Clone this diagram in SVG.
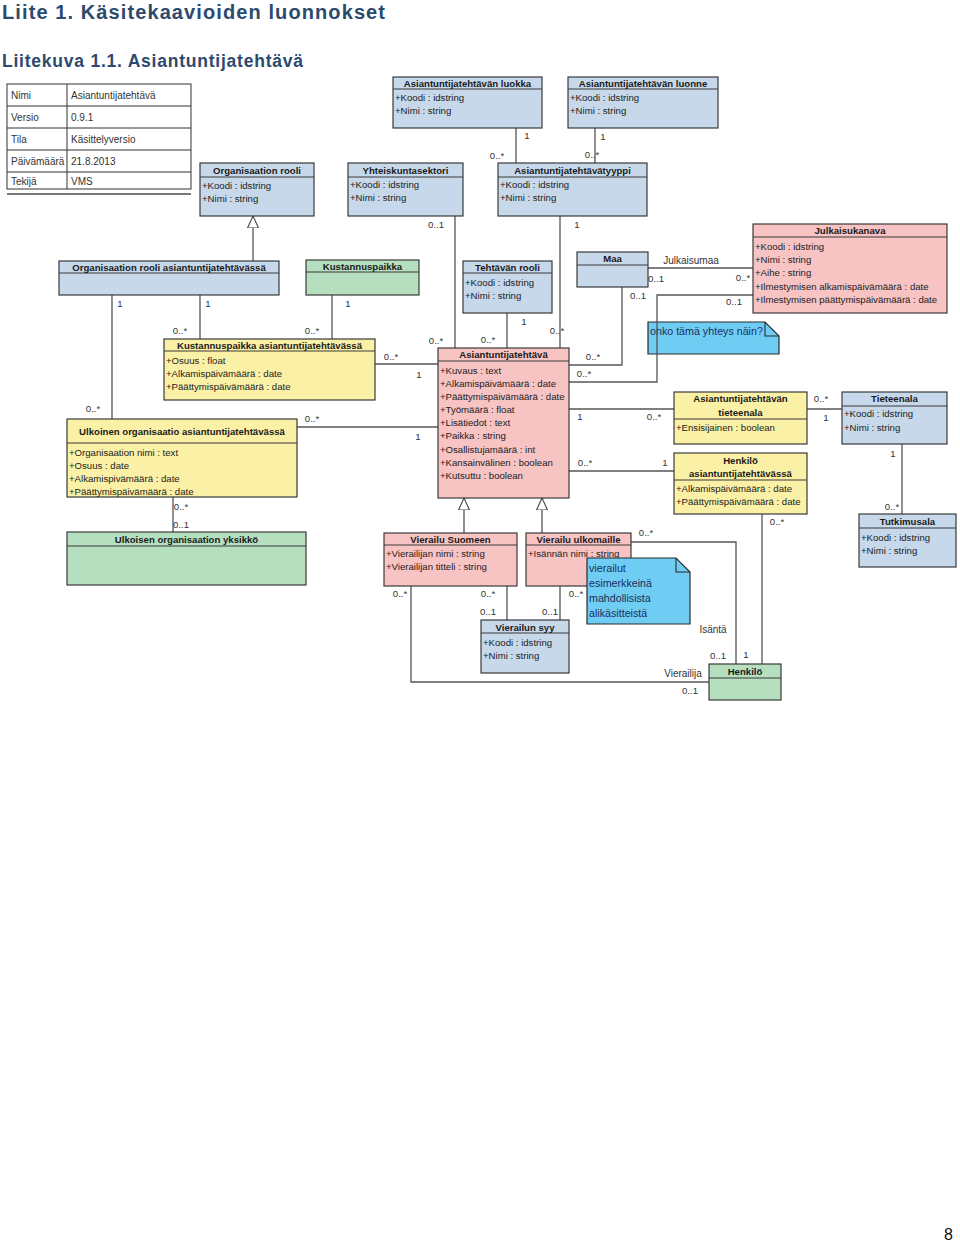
<svg xmlns="http://www.w3.org/2000/svg" width="960" height="1242" viewBox="0 0 960 1242">
<style>
.bg{fill:#ffffff}
.blue{fill:#c6d8ea;stroke:#3a3a3a;stroke-width:1.2}
.pink{fill:#f8c3c3;stroke:#3a3a3a;stroke-width:1.2}
.yel{fill:#fbf1a6;stroke:#3a3a3a;stroke-width:1.2}
.grn{fill:#b5dfbf;stroke:#3a3a3a;stroke-width:1.2}
.note{fill:#6fcdf4;stroke:#2a2a2a;stroke-width:1.2}
.hl{stroke:#3a3a3a;stroke-width:1.2}
.h{font-family:"Liberation Sans",Arial,sans-serif;font-size:9.6px;font-weight:bold;fill:#1a1a1a;text-anchor:middle}
.a{font-family:"Liberation Sans",Arial,sans-serif;font-size:9.6px;fill:#222}
.m{font-family:"Liberation Sans",Arial,sans-serif;font-size:9.6px;fill:#333;text-anchor:middle}
.r{font-family:"Liberation Sans",Arial,sans-serif;font-size:10px;fill:#333;text-anchor:middle}
.n{font-family:"Liberation Sans",Arial,sans-serif;font-size:10.7px;fill:#1c2d5c}
.tb{font-family:"Liberation Sans",Arial,sans-serif;font-size:10px;fill:#333}
.ti{font-family:"Liberation Sans",Arial,sans-serif;font-weight:bold;fill:#2c4a6e}
.c{fill:none;stroke:#555;stroke-width:1.3}
</style>
<defs>
<marker id="gen" viewBox="0 0 12 12" refX="12" refY="6" markerWidth="12" markerHeight="12" markerUnits="userSpaceOnUse" orient="auto">
<path d="M0,0.5 L12,6 L0,11.5 Z" fill="#ffffff" stroke="#444" stroke-width="1.1"/>
</marker>
</defs>
<rect class="bg" x="0" y="0" width="960" height="1242"/>

<text class="ti" x="2" y="19" font-size="20px" textLength="383" lengthAdjust="spacing">Liite 1. Käsitekaavioiden luonnokset</text>
<text class="ti" x="2" y="67" font-size="17.5px" textLength="301" lengthAdjust="spacing">Liitekuva 1.1. Asiantuntijatehtävä</text>
<text x="944" y="1240" font-family="Liberation Sans,Arial,sans-serif" font-size="16px" fill="#111">8</text>

<g id="info-table">
<rect x="7" y="84" width="184" height="105" fill="#fff" stroke="#333" stroke-width="1"/>
<line x1="67" y1="84" x2="67" y2="189" stroke="#333"/>
<line x1="7" y1="106" x2="191" y2="106" stroke="#333"/>
<line x1="7" y1="128" x2="191" y2="128" stroke="#333"/>
<line x1="7" y1="150" x2="191" y2="150" stroke="#333"/>
<line x1="7" y1="172" x2="191" y2="172" stroke="#333"/>
<line x1="7" y1="194" x2="191" y2="194" stroke="#777" stroke-width="2"/>
<text class="tb" x="11" y="99">Nimi</text><text class="tb" x="71" y="99">Asiantuntijatehtävä</text>
<text class="tb" x="11" y="121">Versio</text><text class="tb" x="71" y="121">0.9.1</text>
<text class="tb" x="11" y="143">Tila</text><text class="tb" x="71" y="143">Käsittelyversio</text>
<text class="tb" x="11" y="165">Päivämäärä</text><text class="tb" x="71" y="165">21.8.2013</text>
<text class="tb" x="11" y="185">Tekijä</text><text class="tb" x="71" y="185">VMS</text>
</g>

<g id="connectors">
<line class="c" x1="253" y1="261" x2="253" y2="216" marker-end="url(#gen)"/>
<line class="c" x1="464" y1="533" x2="464" y2="498" marker-end="url(#gen)"/>
<line class="c" x1="542" y1="533" x2="542" y2="498" marker-end="url(#gen)"/>
<polyline class="c" points="516,128 516,163"/>
<polyline class="c" points="595,128 595,163"/>
<polyline class="c" points="560,216 560,348"/>
<polyline class="c" points="455,216 455,348"/>
<polyline class="c" points="200,295 200,339"/>
<polyline class="c" points="332,295 332,339"/>
<polyline class="c" points="112,295 112,419"/>
<polyline class="c" points="375,364 438,364"/>
<polyline class="c" points="507,313 507,348"/>
<polyline class="c" points="648,268 753,268"/>
<polyline class="c" points="622,287 622,365 569,365"/>
<polyline class="c" points="297,427 438,427"/>
<polyline class="c" points="173,497 173,532"/>
<polyline class="c" points="569,409 674,409"/>
<polyline class="c" points="807,409 842,409"/>
<polyline class="c" points="902,444 902,514"/>
<polyline class="c" points="569,471 674,471"/>
<polyline class="c" points="762,514 762,664"/>
<polyline class="c" points="631,542 736,542 736,664"/>
<polyline class="c" points="411,586 411,682 709,682"/>
<polyline class="c" points="507,586 507,620"/>
<polyline class="c" points="560,586 560,620"/>
</g>

<g id="note-yhteys">
<path class="note" d="M648,322 L765,322 L779,336 L779,354 L648,354 Z"/>
<path d="M765,322 L765,336 L779,336" fill="none" stroke="#2a2a2a" stroke-width="1.1"/>
<text class="n" x="650" y="335">onko tämä yhteys näin?</text>
</g>
<polyline class="c" points="753,295 657,295 657,382 569,382"/>

<g id="connector-labels">
<text class="m" x="527" y="139">1</text><text class="m" x="497" y="159">0..*</text>
<text class="m" x="603" y="140">1</text><text class="m" x="592" y="158">0..*</text>
<text class="m" x="577" y="228">1</text><text class="m" x="557" y="334">0..*</text>
<text class="m" x="436" y="228">0..1</text><text class="m" x="436" y="344">0..*</text>
<text class="m" x="208" y="307">1</text><text class="m" x="180" y="334">0..*</text>
<text class="m" x="348" y="307">1</text><text class="m" x="312" y="334">0..*</text>
<text class="m" x="120" y="307">1</text><text class="m" x="93" y="412">0..*</text>
<text class="m" x="391" y="360">0..*</text><text class="m" x="419" y="378">1</text>
<text class="m" x="524" y="325">1</text><text class="m" x="488" y="343">0..*</text>
<text class="r" x="691" y="264">Julkaisumaa</text>
<text class="m" x="656" y="282">0..1</text><text class="m" x="743" y="281">0..*</text>
<text class="m" x="734" y="305">0..1</text><text class="m" x="584" y="377">0..*</text>
<text class="m" x="638" y="299">0..1</text><text class="m" x="593" y="360">0..*</text>
<text class="m" x="312" y="422">0..*</text><text class="m" x="418" y="440">1</text>
<text class="m" x="181" y="510">0..*</text><text class="m" x="181" y="528">0..1</text>
<text class="m" x="580" y="420">1</text><text class="m" x="654" y="420">0..*</text>
<text class="m" x="821" y="402">0..*</text><text class="m" x="826" y="421">1</text>
<text class="m" x="893" y="457">1</text><text class="m" x="892" y="510">0..*</text>
<text class="m" x="585" y="466">0..*</text><text class="m" x="665" y="466">1</text>
<text class="m" x="777" y="525">0..*</text><text class="m" x="746" y="658">1</text>
<text class="m" x="646" y="536">0..*</text>
<text class="r" x="713" y="633">Isäntä</text><text class="m" x="718" y="659">0..1</text>
<text class="m" x="400" y="597">0..*</text>
<text class="r" x="683" y="677">Vierailija</text><text class="m" x="690" y="694">0..1</text>
<text class="m" x="488" y="597">0..*</text><text class="m" x="488" y="615">0..1</text>
<text class="m" x="576" y="597">0..*</text><text class="m" x="550" y="615">0..1</text>
</g>

<g id="organisaation-rooli">
<rect class="blue" x="200" y="163" width="114" height="53"/>
<line class="hl" x1="200" y1="177" x2="314" y2="177"/>
<text class="h" x="257" y="173.5">Organisaation rooli</text>
<text class="a" x="202" y="189">+Koodi : idstring</text>
<text class="a" x="202" y="202">+Nimi : string</text>
</g>

<g id="yhteiskuntasektori">
<rect class="blue" x="348" y="163" width="115" height="53"/>
<line class="hl" x1="348" y1="177" x2="463" y2="177"/>
<text class="h" x="405.5" y="173.5">Yhteiskuntasektori</text>
<text class="a" x="350" y="188">+Koodi : idstring</text>
<text class="a" x="350" y="201">+Nimi : string</text>
</g>

<g id="asiantuntijatehtavan-luokka">
<rect class="blue" x="393" y="77" width="149" height="51"/>
<line class="hl" x1="393" y1="89" x2="542" y2="89"/>
<text class="h" x="467.5" y="86.5">Asiantuntijatehtävän luokka</text>
<text class="a" x="395" y="100.5">+Koodi : idstring</text>
<text class="a" x="395" y="114">+Nimi : string</text>
</g>

<g id="asiantuntijatehtavan-luonne">
<rect class="blue" x="568" y="77" width="150" height="51"/>
<line class="hl" x1="568" y1="89" x2="718" y2="89"/>
<text class="h" x="643" y="86.5">Asiantuntijatehtävän luonne</text>
<text class="a" x="570" y="100.5">+Koodi : idstring</text>
<text class="a" x="570" y="114">+Nimi : string</text>
</g>

<g id="asiantuntijatehtavatyyppi">
<rect class="blue" x="498" y="163" width="149" height="53"/>
<line class="hl" x1="498" y1="177" x2="647" y2="177"/>
<text class="h" x="572.5" y="173.5">Asiantuntijatehtävätyyppi</text>
<text class="a" x="500" y="188">+Koodi : idstring</text>
<text class="a" x="500" y="201">+Nimi : string</text>
</g>

<g id="organisaation-rooli-asiantuntijatehtavassa">
<rect class="blue" x="59" y="261" width="220" height="34"/>
<line class="hl" x1="59" y1="273" x2="279" y2="273"/>
<text class="h" x="169" y="270.5">Organisaation rooli asiantuntijatehtävässä</text>
</g>

<g id="kustannuspaikka">
<rect class="grn" x="306" y="260" width="113" height="35"/>
<line class="hl" x1="306" y1="272" x2="419" y2="272"/>
<text class="h" x="362.5" y="269.5">Kustannuspaikka</text>
</g>

<g id="kustannuspaikka-asiantuntijatehtavassa">
<rect class="yel" x="164" y="339" width="211" height="61"/>
<line class="hl" x1="164" y1="351" x2="375" y2="351"/>
<text class="h" x="269.5" y="348.5">Kustannuspaikka asiantuntijatehtävässä</text>
<text class="a" x="166" y="363.5">+Osuus : float</text>
<text class="a" x="166" y="376.5">+Alkamispäivämäärä : date</text>
<text class="a" x="166" y="390">+Päättymispäivämäärä : date</text>
</g>

<g id="tehtavan-rooli">
<rect class="blue" x="463" y="261" width="89" height="52"/>
<line class="hl" x1="463" y1="273" x2="552" y2="273"/>
<text class="h" x="507.5" y="270.5">Tehtävän rooli</text>
<text class="a" x="465" y="285.5">+Koodi : idstring</text>
<text class="a" x="465" y="298.5">+Nimi : string</text>
</g>

<g id="maa">
<rect class="blue" x="577" y="252" width="71" height="35"/>
<line class="hl" x1="577" y1="265" x2="648" y2="265"/>
<text class="h" x="612.5" y="261.5">Maa</text>
</g>

<g id="julkaisukanava">
<rect class="pink" x="753" y="224" width="194" height="89"/>
<line class="hl" x1="753" y1="237" x2="947" y2="237"/>
<text class="h" x="850" y="234">Julkaisukanava</text>
<text class="a" x="755" y="250">+Koodi : idstring</text>
<text class="a" x="755" y="263">+Nimi : string</text>
<text class="a" x="755" y="276">+Aihe : string</text>
<text class="a" x="755" y="289.5">+Ilmestymisen alkamispäivämäärä : date</text>
<text class="a" x="755" y="302.5">+Ilmestymisen päättymispäivämäärä : date</text>
</g>

<g id="asiantuntijatehtava">
<rect class="pink" x="438" y="348" width="131" height="150"/>
<line class="hl" x1="438" y1="361" x2="569" y2="361"/>
<text class="h" x="503.5" y="358">Asiantuntijatehtävä</text>
<text class="a" x="440" y="373.5">+Kuvaus : text</text>
<text class="a" x="440" y="386.5">+Alkamispäivämäärä : date</text>
<text class="a" x="440" y="400">+Päättymispäivämäärä : date</text>
<text class="a" x="440" y="412.5">+Työmäärä : float</text>
<text class="a" x="440" y="426">+Lisätiedot : text</text>
<text class="a" x="440" y="439">+Paikka : string</text>
<text class="a" x="440" y="452.5">+Osallistujamäärä : int</text>
<text class="a" x="440" y="465.5">+Kansainvälinen : boolean</text>
<text class="a" x="440" y="478.5">+Kutsuttu : boolean</text>
</g>

<g id="ulkoinen-organisaatio-asiantuntijatehtavassa">
<rect class="yel" x="67" y="419" width="230" height="78"/>
<line class="hl" x1="67" y1="443" x2="297" y2="443"/>
<text class="h" x="182" y="434.5">Ulkoinen organisaatio asiantuntijatehtävässä</text>
<text class="a" x="69" y="455.5">+Organisaation nimi : text</text>
<text class="a" x="69" y="468.5">+Osuus : date</text>
<text class="a" x="69" y="481.5">+Alkamispivämäärä : date</text>
<text class="a" x="69" y="495">+Päättymispäivämäärä : date</text>
</g>

<g id="ulkoisen-organisaation-yksikko">
<rect class="grn" x="67" y="532" width="239" height="53"/>
<line class="hl" x1="67" y1="546" x2="306" y2="546"/>
<text class="h" x="186.5" y="542.5">Ulkoisen organisaation yksikkö</text>
</g>

<g id="asiantuntijatehtavan-tieteenala">
<rect class="yel" x="674" y="392" width="133" height="52"/>
<line class="hl" x1="674" y1="419" x2="807" y2="419"/>
<text class="h" x="740.5" y="402">Asiantuntijatehtävän</text>
<text class="h" x="740.5" y="415.5">tieteenala</text>
<text class="a" x="676" y="430.5">+Ensisijainen : boolean</text>
</g>

<g id="tieteenala">
<rect class="blue" x="842" y="392" width="105" height="52"/>
<line class="hl" x1="842" y1="406" x2="947" y2="406"/>
<text class="h" x="894.5" y="402">Tieteenala</text>
<text class="a" x="844" y="417">+Koodi : idstring</text>
<text class="a" x="844" y="430.5">+Nimi : string</text>
</g>

<g id="tutkimusala">
<rect class="blue" x="859" y="514" width="97" height="53"/>
<line class="hl" x1="859" y1="528" x2="956" y2="528"/>
<text class="h" x="907.5" y="524.5">Tutkimusala</text>
<text class="a" x="861" y="540.5">+Koodi : idstring</text>
<text class="a" x="861" y="553.5">+Nimi : string</text>
</g>

<g id="henkilo-asiantuntijatehtavassa">
<rect class="yel" x="674" y="453" width="133" height="61"/>
<line class="hl" x1="674" y1="480" x2="807" y2="480"/>
<text class="h" x="740.5" y="463.5">Henkilö</text>
<text class="h" x="740.5" y="476.5">asiantuntijatehtävässä</text>
<text class="a" x="676" y="491.5">+Alkamispäivämäärä : date</text>
<text class="a" x="676" y="504.5">+Päättymispäivämäärä : date</text>
</g>

<g id="henkilo">
<rect class="grn" x="709" y="664" width="72" height="36"/>
<line class="hl" x1="709" y1="678" x2="781" y2="678"/>
<text class="h" x="745" y="674.5">Henkilö</text>
</g>

<g id="vierailu-suomeen">
<rect class="pink" x="384" y="533" width="133" height="53"/>
<line class="hl" x1="384" y1="545" x2="517" y2="545"/>
<text class="h" x="450.5" y="542.5">Vierailu Suomeen</text>
<text class="a" x="386" y="556.5">+Vierailijan nimi : string</text>
<text class="a" x="386" y="569.5">+Vierailijan titteli : string</text>
</g>

<g id="vierailu-ulkomaille">
<rect class="pink" x="526" y="533" width="105" height="53"/>
<line class="hl" x1="526" y1="545" x2="631" y2="545"/>
<text class="h" x="578.5" y="542.5">Vierailu ulkomaille</text>
<text class="a" x="528" y="556.5">+Isännän nimi : string</text>
</g>

<g id="vierailun-syy">
<rect class="blue" x="481" y="620" width="88" height="53"/>
<line class="hl" x1="481" y1="633" x2="569" y2="633"/>
<text class="h" x="525" y="630.5">Vierailun syy</text>
<text class="a" x="483" y="645.5">+Koodi : idstring</text>
<text class="a" x="483" y="658.5">+Nimi : string</text>
</g>

<g id="note-vierailut">
<path class="note" d="M587,558 L676,558 L690,572 L690,624 L587,624 Z"/>
<path d="M676,558 L676,572 L690,572" fill="none" stroke="#2a2a2a" stroke-width="1.1"/>
<text class="n" x="589" y="572">vierailut</text>
<text class="n" x="589" y="587">esimerkkeinä</text>
<text class="n" x="589" y="602">mahdollisista</text>
<text class="n" x="589" y="617">alikäsitteistä</text>
</g>
</svg>
